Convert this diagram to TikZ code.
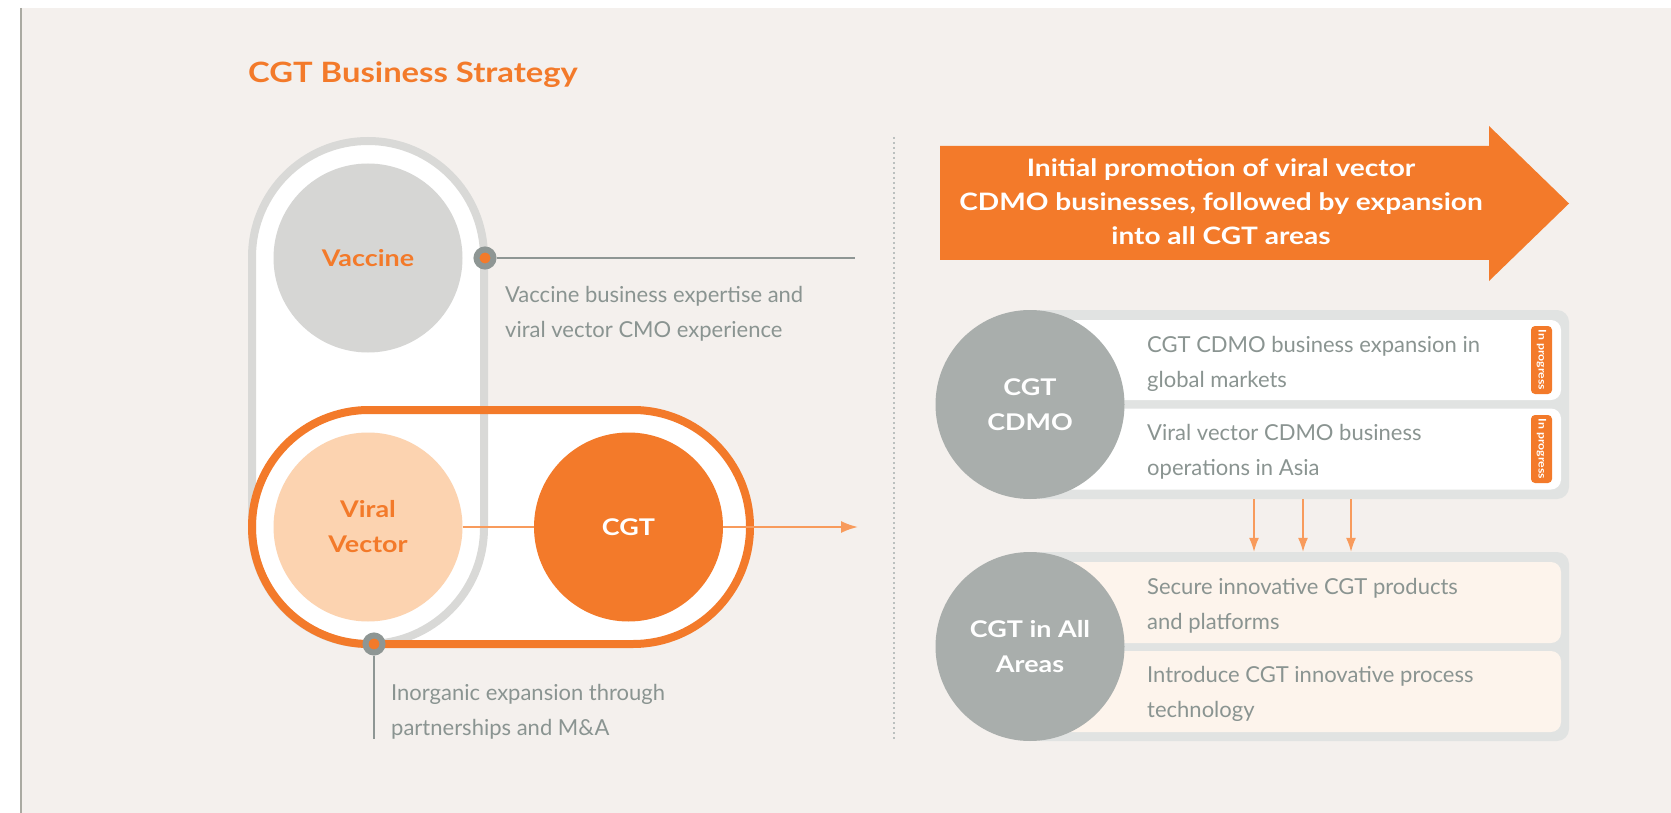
\documentclass[tikz,border=0pt]{standalone}
\usepackage{fontspec}
\setmainfont{Lato}[BoldFeatures={FakeStretch=1.17}]
\usetikzlibrary{arrows.meta,calc}
\definecolor{bgbeige}{HTML}{F4F0ED}
\definecolor{cgtorange}{HTML}{F37A2A}
\definecolor{peach}{HTML}{FCD3B0}
\definecolor{vaccgrey}{HTML}{D6D6D4}
\definecolor{trackgrey}{HTML}{D9D9D7}
\definecolor{stonegrey}{HTML}{A9AEAC}
\definecolor{textgrey}{HTML}{8A9491}
\definecolor{pingrey}{HTML}{8E9694}
\definecolor{panelgrey}{HTML}{E1E3E2}
\definecolor{cream}{HTML}{FDF4EC}
\definecolor{flow}{HTML}{F89B5C}
\definecolor{edgegrey}{HTML}{AAAAA2}
\tikzset{>={Latex[length=17pt,width=12pt]}}
\tikzstyle{stage}=[circle,minimum size=189pt,inner sep=0pt,align=center,font=\fontsize{23}{35}\selectfont\bfseries]
\tikzstyle{panel}=[rectangle,fill=panelgrey,rounded corners=12pt,inner sep=0pt,minimum width=539pt,minimum height=189pt]
\tikzstyle{row}=[rectangle,rounded corners=10pt,inner sep=0pt,minimum width=531pt,minimum height=81pt]
\tikzstyle{note}=[anchor=west,align=left,inner sep=0pt,text=textgrey,font=\fontsize{22}{35}\selectfont]
\tikzstyle{badge}=[rectangle,fill=cgtorange,rounded corners=4pt,rotate=-90,minimum width=68pt,minimum height=21pt,inner sep=0pt,text=white,font=\fontsize{10.5}{12}\selectfont\bfseries]
\tikzstyle{pin}=[circle,draw=pingrey,line width=6pt,fill=cgtorange,minimum size=17pt,inner sep=0pt]
\tikzstyle{callout}=[draw=pingrey,line width=1.3pt]
\tikzstyle{link}=[draw=flow,line width=2pt]

\begin{document}
\begin{tikzpicture}[x=1pt,y=-1pt]
\def \lw {8pt};
\def \cx {1030};
\def \px {1299.5};
\def \rx {1295.5};

\useasboundingbox (0,0) rectangle (1671,813);
\fill[white] (0,0) rectangle (1671,813);
\fill[bgbeige] (21,8) rectangle (1671,813);
\draw[edgegrey,line width=1.5pt] (21,8) -- (21,813);

\node[anchor=base west,inner sep=0pt,text=cgtorange,font=\fontsize{28}{34}\selectfont\bfseries] (title) at (248,83) {CGT Business Strategy};

% tracks
\fill[white,rounded corners=115.9pt] (252,141) rectangle (484,644);
\fill[white,rounded corners=116.9pt] (252,410) rectangle (750,644);
\draw[trackgrey,line width=\lw,rounded corners=115.9pt] (252,141) rectangle (484,644);
\draw[cgtorange,line width=\lw,rounded corners=116.9pt] (252,410) rectangle (750,644);

\node[stage,fill=vaccgrey,text=cgtorange] (vaccine) at (368,258) {Vaccine};
\node[stage,fill=peach,text=cgtorange] (viral) at (368,527) {Viral\\Vector};
\node[stage,fill=cgtorange,text=white] (cgt) at (628.5,527) {CGT};

\coordinate (cgtout) at (858,527);
\draw[link] (viral) -- (cgt);
\draw[link,->] (cgt) -- (cgtout);

\node[pin] (pinv) at (485,258) {};
\node[pin] (pinm) at (374,644) {};
\coordinate (vend) at (855,258);
\coordinate (mend) at (374,739);
\draw[callout] (pinv) -- (vend);
\draw[callout] (pinm) -- (mend);

\node[note] (vnote) at (505,313.5) {Vaccine business expertise and\\viral vector CMO experience};
\node[note] (mnote) at (391,711.5) {Inorganic expansion through\\partnerships and M\&A};

\draw[pingrey!60,line width=1.2pt,dash pattern=on 2pt off 3pt] (894,137) -- (894,741);

% direction arrow
\fill[cgtorange] (940,146) -- (1489,146) -- (1489,126) -- (1569,203.5) -- (1489,281) -- (1489,260) -- (940,260) -- cycle;
\node[align=center,inner sep=0pt,text=white,font=\fontsize{24}{34}\selectfont\bfseries] (promo) at (1221,202) {Initial promotion of viral vector\\CDMO businesses, followed by expansion\\into all CGT areas};

% CGT CDMO
\node[panel] (cdmobox) at (\px,404.5) {};
\node[row,fill=white,minimum height=80pt] (row1) at (\rx,360) {};
\node[row,fill=white] (row2) at (\rx,449) {};
\node[stage,fill=stonegrey,text=white] (cdmo) at (\cx,404.5) {CGT\\CDMO};
\node[note] (t1) at (1147,364) {CGT CDMO business expansion in\\global markets};
\node[note] (t2) at (1147,451.5) {Viral vector CDMO business\\operations in Asia};
\foreach \i/\y in {1/360,2/449} {
	\node[badge] (prog\i) at (1541.5,\y) {In progress};
};

% CGT in all areas
\node[panel] (allbox) at (\px,646.5) {};
\node[row,fill=cream] (row3) at (\rx,602.5) {};
\node[row,fill=cream] (row4) at (\rx,691.5) {};
\node[stage,fill=stonegrey,text=white] (all) at (\cx,646.5) {CGT in All\\Areas};
\node[note] (t3) at (1147,606) {Secure innovative CGT products\\and platforms};
\node[note] (t4) at (1147,693.5) {Introduce CGT innovative process\\technology};

\foreach \dx in {-45.5,3.5,51.5} {
	\draw[flow,line width=1.3pt,-{Latex[length=14pt,width=10pt]}] ([xshift=\dx pt]cdmobox.south) -- ([xshift=\dx pt]allbox.north);
};

\end{tikzpicture}
\end{document}
